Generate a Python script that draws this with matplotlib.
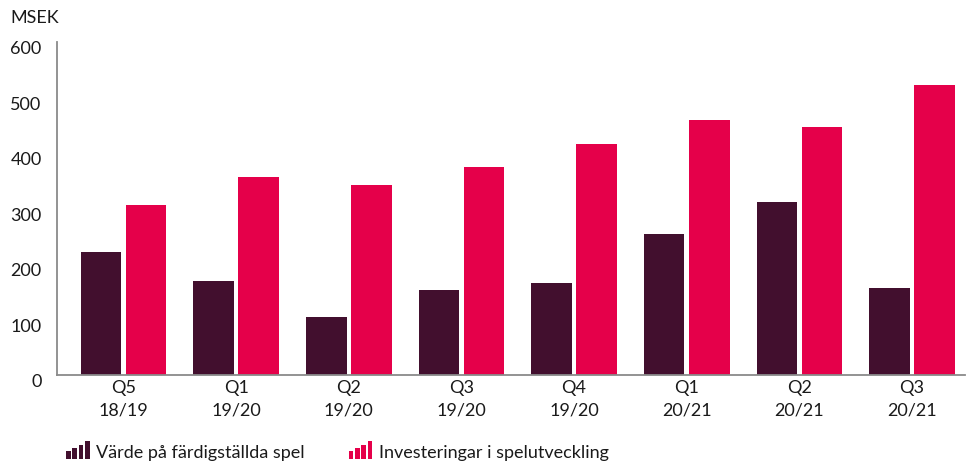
"""Kvartalsvis: värde på färdigställda spel vs investeringar i spelutveckling (MSEK)."""

import matplotlib
matplotlib.use("Agg")
import matplotlib.pyplot as plt
import matplotlib.transforms as mtransforms
import numpy as np
from matplotlib.legend_handler import HandlerBase
from matplotlib.patches import Rectangle

plt.rcParams["font.family"] = ["Lato", "DejaVu Sans"]

quarters = ["Q5\n18/19", "Q1\n19/20", "Q2\n19/20", "Q3\n19/20",
            "Q4\n19/20", "Q1\n20/21", "Q2\n20/21", "Q3\n20/21"]
completed_games = [221, 169, 104, 153, 165, 254, 311, 156]
investments = [306, 356, 343, 374, 417, 459, 446, 523]
series_labels = ["Värde på färdigställda spel", "Investeringar i spelutveckling"]
y_ticks = [0, 100, 200, 300, 400, 500, 600]

DARK = "#420F2E"
RED = "#E5004A"
AXIS = "#8A8A8A"
TEXT = "#1A1A1A"
FS = 13


class StairHandler(HandlerBase):
    """Legend icon: four bars of increasing height."""

    def create_artists(self, legend, orig_handle, xdescent, ydescent,
                       width, height, fontsize, trans):
        c = orig_handle.get_facecolor()
        n = 4
        w = width / n
        arts = []
        for i in range(n):
            h = height * (0.45 + 0.55 * i / (n - 1)) * 1.15
            r = Rectangle((-xdescent + i * w + w * 0.12, -ydescent), w * 0.76, h,
                          facecolor=c, edgecolor="none", transform=trans)
            arts.append(r)
        return arts


fig = plt.figure(figsize=(9.67, 4.64), dpi=100)
ax = fig.add_axes([57 / 967, 1 - 376 / 464, 908 / 967, 333 / 464])

x = np.arange(len(quarters))
w = 0.36
b1 = ax.bar(x - 0.2, completed_games, width=w, color=DARK, label=series_labels[0])
b2 = ax.bar(x + 0.2, investments, width=w, color=RED, label=series_labels[1])

ax.set_xlim(-0.59, 7.47)
ax.set_ylim(0, 600)
ax.set_yticks(y_ticks)
ax.set_xticks(x)
ax.set_xticklabels(quarters, fontsize=FS, color=TEXT, linespacing=1.5)
ax.tick_params(axis="both", length=0, labelsize=FS, colors=TEXT)
ax.tick_params(axis="y", pad=11)
ax.tick_params(axis="x", pad=3)

# y labels sit a little below their gridline in the original
offset = mtransforms.ScaledTranslation(0, -5 / 100, fig.dpi_scale_trans)
for lab in ax.get_yticklabels():
    lab.set_transform(lab.get_transform() + offset)

for side in ["top", "right"]:
    ax.spines[side].set_visible(False)
for side in ["left", "bottom"]:
    ax.spines[side].set_color(AXIS)
    ax.spines[side].set_linewidth(1.3)

fig.text(10 / 967, 1 - 18 / 464, "MSEK", fontsize=FS, color=TEXT, va="center", ha="left")

fig.legend(
    [b1.patches[0], b2.patches[0]], series_labels,
    handler_map={Rectangle: StairHandler()},
    loc="center left", bbox_to_anchor=(58 / 967, 1 - 453 / 464),
    ncol=2, frameon=False, fontsize=FS, handlelength=1.4, handleheight=0.9,
    handletextpad=0.3, columnspacing=2.4, labelcolor=TEXT, borderaxespad=0,
)

fig.savefig("out.png", dpi=100)
